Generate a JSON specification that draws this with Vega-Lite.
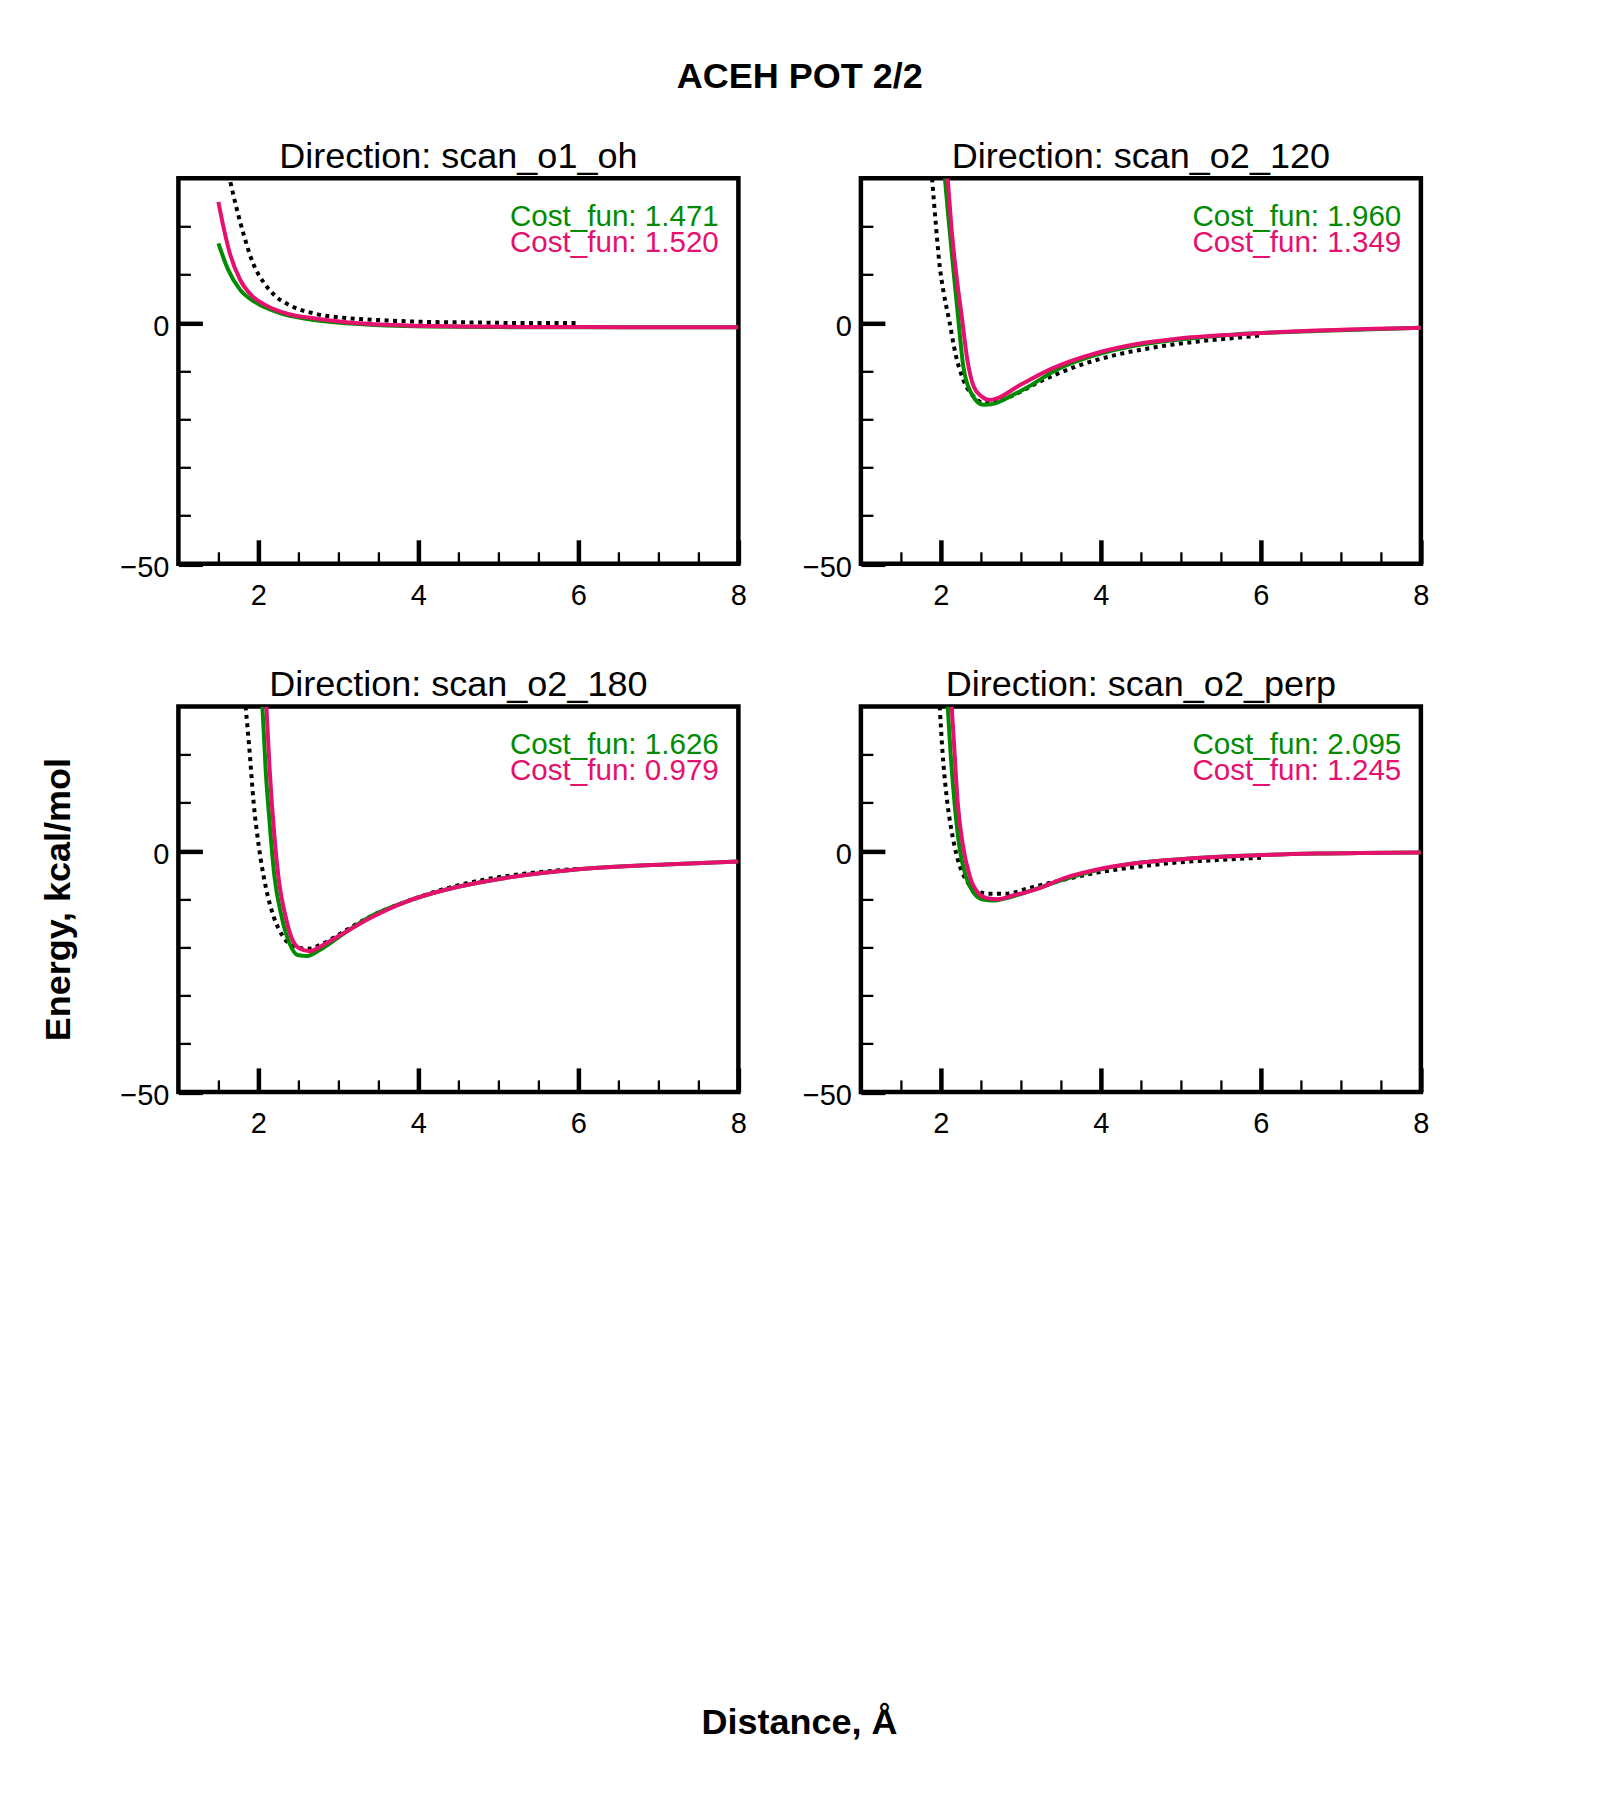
{
  "$schema": "https://vega.github.io/schema/vega-lite/v6.json",
  "background": "white",
  "padding": {"left": 37.4, "top": 58.3, "right": 20, "bottom": 20},
  "title": {"text": "ACEH POT 2/2", "font": "Liberation Sans", "fontSize": 36, "fontWeight": "bold", "color": "black", "anchor": "middle", "offset": 40.4, "dx": 65},
  "config": {
    "view": {"stroke": "black", "strokeWidth": 4.5},
    "axis": {"labelFont": "Liberation Sans", "labelFontSize": 29, "labelColor": "black", "tickColor": "black", "domain": false, "grid": false, "titleFont": "Liberation Sans", "titleColor": "black"},
    "text": {"font": "Liberation Sans"}
  },
  "datasets": {
    "curves": [
      {"panel": "scan_o1_oh", "series": "ref", "x": 1.65, "y": 29.2},
      {"panel": "scan_o1_oh", "series": "ref", "x": 1.72, "y": 24.3},
      {"panel": "scan_o1_oh", "series": "ref", "x": 1.82, "y": 18.1},
      {"panel": "scan_o1_oh", "series": "ref", "x": 1.93, "y": 12.5},
      {"panel": "scan_o1_oh", "series": "ref", "x": 2.07, "y": 8.3},
      {"panel": "scan_o1_oh", "series": "ref", "x": 2.21, "y": 5.6},
      {"panel": "scan_o1_oh", "series": "ref", "x": 2.41, "y": 3.5},
      {"panel": "scan_o1_oh", "series": "ref", "x": 2.71, "y": 1.9},
      {"panel": "scan_o1_oh", "series": "ref", "x": 3.1, "y": 1.0},
      {"panel": "scan_o1_oh", "series": "ref", "x": 3.6, "y": 0.5},
      {"panel": "scan_o1_oh", "series": "ref", "x": 4.1, "y": 0.2},
      {"panel": "scan_o1_oh", "series": "ref", "x": 4.6, "y": 0.1},
      {"panel": "scan_o1_oh", "series": "ref", "x": 5.0, "y": 0.0},
      {"panel": "scan_o1_oh", "series": "ref", "x": 5.5, "y": -0.05},
      {"panel": "scan_o1_oh", "series": "ref", "x": 6.0, "y": -0.05},
      {"panel": "scan_o1_oh", "series": "fit1", "x": 1.5, "y": 16.5},
      {"panel": "scan_o1_oh", "series": "fit1", "x": 1.62, "y": 11.1},
      {"panel": "scan_o1_oh", "series": "fit1", "x": 1.77, "y": 6.9},
      {"panel": "scan_o1_oh", "series": "fit1", "x": 1.97, "y": 4.2},
      {"panel": "scan_o1_oh", "series": "fit1", "x": 2.26, "y": 2.1},
      {"panel": "scan_o1_oh", "series": "fit1", "x": 2.61, "y": 0.8},
      {"panel": "scan_o1_oh", "series": "fit1", "x": 3.1, "y": -0.1},
      {"panel": "scan_o1_oh", "series": "fit1", "x": 3.6, "y": -0.55},
      {"panel": "scan_o1_oh", "series": "fit1", "x": 4.1, "y": -0.76},
      {"panel": "scan_o1_oh", "series": "fit1", "x": 5.0, "y": -0.88},
      {"panel": "scan_o1_oh", "series": "fit1", "x": 6.0, "y": -0.92},
      {"panel": "scan_o1_oh", "series": "fit1", "x": 7.0, "y": -0.93},
      {"panel": "scan_o1_oh", "series": "fit1", "x": 8.0, "y": -0.93},
      {"panel": "scan_o1_oh", "series": "fit2", "x": 1.5, "y": 25.1},
      {"panel": "scan_o1_oh", "series": "fit2", "x": 1.57, "y": 19.4},
      {"panel": "scan_o1_oh", "series": "fit2", "x": 1.64, "y": 14.6},
      {"panel": "scan_o1_oh", "series": "fit2", "x": 1.77, "y": 9.0},
      {"panel": "scan_o1_oh", "series": "fit2", "x": 1.92, "y": 5.6},
      {"panel": "scan_o1_oh", "series": "fit2", "x": 2.11, "y": 3.5},
      {"panel": "scan_o1_oh", "series": "fit2", "x": 2.36, "y": 1.9},
      {"panel": "scan_o1_oh", "series": "fit2", "x": 2.71, "y": 0.9},
      {"panel": "scan_o1_oh", "series": "fit2", "x": 3.1, "y": 0.14},
      {"panel": "scan_o1_oh", "series": "fit2", "x": 3.6, "y": -0.4},
      {"panel": "scan_o1_oh", "series": "fit2", "x": 4.1, "y": -0.65},
      {"panel": "scan_o1_oh", "series": "fit2", "x": 4.6, "y": -0.76},
      {"panel": "scan_o1_oh", "series": "fit2", "x": 5.5, "y": -0.85},
      {"panel": "scan_o1_oh", "series": "fit2", "x": 6.5, "y": -0.9},
      {"panel": "scan_o1_oh", "series": "fit2", "x": 8.0, "y": -0.92},

      {"panel": "scan_o2_120", "series": "ref", "x": 1.89, "y": 30},
      {"panel": "scan_o2_120", "series": "ref", "x": 1.935, "y": 20.8},
      {"panel": "scan_o2_120", "series": "ref", "x": 1.985, "y": 11.8},
      {"panel": "scan_o2_120", "series": "ref", "x": 2.035, "y": 6.25},
      {"panel": "scan_o2_120", "series": "ref", "x": 2.11, "y": 0},
      {"panel": "scan_o2_120", "series": "ref", "x": 2.18, "y": -6.25},
      {"panel": "scan_o2_120", "series": "ref", "x": 2.28, "y": -11.8},
      {"panel": "scan_o2_120", "series": "ref", "x": 2.41, "y": -15.3},
      {"panel": "scan_o2_120", "series": "ref", "x": 2.56, "y": -16.7},
      {"panel": "scan_o2_120", "series": "ref", "x": 2.71, "y": -16.3},
      {"panel": "scan_o2_120", "series": "ref", "x": 2.96, "y": -14.6},
      {"panel": "scan_o2_120", "series": "ref", "x": 3.2, "y": -12.5},
      {"panel": "scan_o2_120", "series": "ref", "x": 3.7, "y": -9.0},
      {"panel": "scan_o2_120", "series": "ref", "x": 4.2, "y": -6.6},
      {"panel": "scan_o2_120", "series": "ref", "x": 4.7, "y": -5.0},
      {"panel": "scan_o2_120", "series": "ref", "x": 5.19, "y": -3.9},
      {"panel": "scan_o2_120", "series": "ref", "x": 5.69, "y": -3.1},
      {"panel": "scan_o2_120", "series": "ref", "x": 6.0, "y": -2.6},
      {"panel": "scan_o2_120", "series": "fit1", "x": 2.05, "y": 30},
      {"panel": "scan_o2_120", "series": "fit1", "x": 2.1, "y": 20.8},
      {"panel": "scan_o2_120", "series": "fit1", "x": 2.16, "y": 10.4},
      {"panel": "scan_o2_120", "series": "fit1", "x": 2.21, "y": 2.1},
      {"panel": "scan_o2_120", "series": "fit1", "x": 2.28, "y": -9.0},
      {"panel": "scan_o2_120", "series": "fit1", "x": 2.38, "y": -14.6},
      {"panel": "scan_o2_120", "series": "fit1", "x": 2.53, "y": -17.0},
      {"panel": "scan_o2_120", "series": "fit1", "x": 2.68, "y": -16.7},
      {"panel": "scan_o2_120", "series": "fit1", "x": 2.86, "y": -15.3},
      {"panel": "scan_o2_120", "series": "fit1", "x": 3.1, "y": -13.2},
      {"panel": "scan_o2_120", "series": "fit1", "x": 3.45, "y": -9.7},
      {"panel": "scan_o2_120", "series": "fit1", "x": 3.95, "y": -6.6},
      {"panel": "scan_o2_120", "series": "fit1", "x": 4.45, "y": -4.65},
      {"panel": "scan_o2_120", "series": "fit1", "x": 4.95, "y": -3.5},
      {"panel": "scan_o2_120", "series": "fit1", "x": 5.69, "y": -2.4},
      {"panel": "scan_o2_120", "series": "fit1", "x": 6.69, "y": -1.7},
      {"panel": "scan_o2_120", "series": "fit1", "x": 8.0, "y": -1.0},
      {"panel": "scan_o2_120", "series": "fit2", "x": 2.085, "y": 30},
      {"panel": "scan_o2_120", "series": "fit2", "x": 2.13, "y": 20.1},
      {"panel": "scan_o2_120", "series": "fit2", "x": 2.19, "y": 10.4},
      {"panel": "scan_o2_120", "series": "fit2", "x": 2.26, "y": 1.4},
      {"panel": "scan_o2_120", "series": "fit2", "x": 2.33, "y": -7.6},
      {"panel": "scan_o2_120", "series": "fit2", "x": 2.41, "y": -13.2},
      {"panel": "scan_o2_120", "series": "fit2", "x": 2.51, "y": -15.3},
      {"panel": "scan_o2_120", "series": "fit2", "x": 2.61, "y": -16.0},
      {"panel": "scan_o2_120", "series": "fit2", "x": 2.71, "y": -15.6},
      {"panel": "scan_o2_120", "series": "fit2", "x": 2.96, "y": -13.2},
      {"panel": "scan_o2_120", "series": "fit2", "x": 3.4, "y": -9.4},
      {"panel": "scan_o2_120", "series": "fit2", "x": 3.95, "y": -6.25},
      {"panel": "scan_o2_120", "series": "fit2", "x": 4.45, "y": -4.4},
      {"panel": "scan_o2_120", "series": "fit2", "x": 4.95, "y": -3.3},
      {"panel": "scan_o2_120", "series": "fit2", "x": 5.69, "y": -2.4},
      {"panel": "scan_o2_120", "series": "fit2", "x": 6.69, "y": -1.6},
      {"panel": "scan_o2_120", "series": "fit2", "x": 8.0, "y": -1.0},

      {"panel": "scan_o2_180", "series": "ref", "x": 1.84, "y": 30},
      {"panel": "scan_o2_180", "series": "ref", "x": 1.89, "y": 20.6},
      {"panel": "scan_o2_180", "series": "ref", "x": 1.94, "y": 10.1},
      {"panel": "scan_o2_180", "series": "ref", "x": 2.005, "y": 1.0},
      {"panel": "scan_o2_180", "series": "ref", "x": 2.09, "y": -7.3},
      {"panel": "scan_o2_180", "series": "ref", "x": 2.19, "y": -13.6},
      {"panel": "scan_o2_180", "series": "ref", "x": 2.31, "y": -17.8},
      {"panel": "scan_o2_180", "series": "ref", "x": 2.46, "y": -19.9},
      {"panel": "scan_o2_180", "series": "ref", "x": 2.61, "y": -20.3},
      {"panel": "scan_o2_180", "series": "ref", "x": 2.81, "y": -19.2},
      {"panel": "scan_o2_180", "series": "ref", "x": 3.1, "y": -16.4},
      {"panel": "scan_o2_180", "series": "ref", "x": 3.4, "y": -13.6},
      {"panel": "scan_o2_180", "series": "ref", "x": 3.8, "y": -10.8},
      {"panel": "scan_o2_180", "series": "ref", "x": 4.3, "y": -8.0},
      {"panel": "scan_o2_180", "series": "ref", "x": 4.84, "y": -5.9},
      {"panel": "scan_o2_180", "series": "ref", "x": 5.34, "y": -4.7},
      {"panel": "scan_o2_180", "series": "ref", "x": 6.0, "y": -3.7},
      {"panel": "scan_o2_180", "series": "fit1", "x": 2.05, "y": 30},
      {"panel": "scan_o2_180", "series": "fit1", "x": 2.09, "y": 17.1},
      {"panel": "scan_o2_180", "series": "fit1", "x": 2.14, "y": 5.9},
      {"panel": "scan_o2_180", "series": "fit1", "x": 2.2, "y": -5.2},
      {"panel": "scan_o2_180", "series": "fit1", "x": 2.29, "y": -13.6},
      {"panel": "scan_o2_180", "series": "fit1", "x": 2.39, "y": -19.2},
      {"panel": "scan_o2_180", "series": "fit1", "x": 2.49, "y": -21.6},
      {"panel": "scan_o2_180", "series": "fit1", "x": 2.61, "y": -21.8},
      {"panel": "scan_o2_180", "series": "fit1", "x": 2.76, "y": -20.6},
      {"panel": "scan_o2_180", "series": "fit1", "x": 3.01, "y": -17.8},
      {"panel": "scan_o2_180", "series": "fit1", "x": 3.4, "y": -13.6},
      {"panel": "scan_o2_180", "series": "fit1", "x": 3.85, "y": -10.5},
      {"panel": "scan_o2_180", "series": "fit1", "x": 4.35, "y": -8.0},
      {"panel": "scan_o2_180", "series": "fit1", "x": 5.09, "y": -5.6},
      {"panel": "scan_o2_180", "series": "fit1", "x": 6.0, "y": -3.8},
      {"panel": "scan_o2_180", "series": "fit1", "x": 7.08, "y": -2.8},
      {"panel": "scan_o2_180", "series": "fit1", "x": 8.0, "y": -2.2},
      {"panel": "scan_o2_180", "series": "fit2", "x": 2.1, "y": 30},
      {"panel": "scan_o2_180", "series": "fit2", "x": 2.14, "y": 17.1},
      {"panel": "scan_o2_180", "series": "fit2", "x": 2.2, "y": 3.1},
      {"panel": "scan_o2_180", "series": "fit2", "x": 2.26, "y": -6.6},
      {"panel": "scan_o2_180", "series": "fit2", "x": 2.34, "y": -13.6},
      {"panel": "scan_o2_180", "series": "fit2", "x": 2.41, "y": -17.8},
      {"panel": "scan_o2_180", "series": "fit2", "x": 2.51, "y": -20.2},
      {"panel": "scan_o2_180", "series": "fit2", "x": 2.64, "y": -20.8},
      {"panel": "scan_o2_180", "series": "fit2", "x": 2.81, "y": -19.5},
      {"panel": "scan_o2_180", "series": "fit2", "x": 3.1, "y": -16.7},
      {"panel": "scan_o2_180", "series": "fit2", "x": 3.4, "y": -13.9},
      {"panel": "scan_o2_180", "series": "fit2", "x": 3.85, "y": -10.5},
      {"panel": "scan_o2_180", "series": "fit2", "x": 4.35, "y": -8.0},
      {"panel": "scan_o2_180", "series": "fit2", "x": 5.09, "y": -5.6},
      {"panel": "scan_o2_180", "series": "fit2", "x": 6.0, "y": -3.8},
      {"panel": "scan_o2_180", "series": "fit2", "x": 7.08, "y": -2.8},
      {"panel": "scan_o2_180", "series": "fit2", "x": 8.0, "y": -2.2},

      {"panel": "scan_o2_perp", "series": "ref", "x": 1.985, "y": 30},
      {"panel": "scan_o2_perp", "series": "ref", "x": 2.02, "y": 20.6},
      {"panel": "scan_o2_perp", "series": "ref", "x": 2.07, "y": 11.5},
      {"panel": "scan_o2_perp", "series": "ref", "x": 2.13, "y": 4.5},
      {"panel": "scan_o2_perp", "series": "ref", "x": 2.21, "y": -1.7},
      {"panel": "scan_o2_perp", "series": "ref", "x": 2.31, "y": -5.9},
      {"panel": "scan_o2_perp", "series": "ref", "x": 2.43, "y": -8.0},
      {"panel": "scan_o2_perp", "series": "ref", "x": 2.6, "y": -8.9},
      {"panel": "scan_o2_perp", "series": "ref", "x": 2.81, "y": -8.9},
      {"panel": "scan_o2_perp", "series": "ref", "x": 3.1, "y": -7.7},
      {"panel": "scan_o2_perp", "series": "ref", "x": 3.5, "y": -6.1},
      {"panel": "scan_o2_perp", "series": "ref", "x": 3.95, "y": -4.5},
      {"panel": "scan_o2_perp", "series": "ref", "x": 4.45, "y": -3.3},
      {"panel": "scan_o2_perp", "series": "ref", "x": 4.95, "y": -2.4},
      {"panel": "scan_o2_perp", "series": "ref", "x": 5.44, "y": -1.9},
      {"panel": "scan_o2_perp", "series": "ref", "x": 6.0, "y": -1.4},
      {"panel": "scan_o2_perp", "series": "fit1", "x": 2.085, "y": 30},
      {"panel": "scan_o2_perp", "series": "fit1", "x": 2.12, "y": 20.6},
      {"panel": "scan_o2_perp", "series": "fit1", "x": 2.17, "y": 10.1},
      {"panel": "scan_o2_perp", "series": "fit1", "x": 2.23, "y": 1.0},
      {"panel": "scan_o2_perp", "series": "fit1", "x": 2.31, "y": -5.2},
      {"panel": "scan_o2_perp", "series": "fit1", "x": 2.41, "y": -8.7},
      {"panel": "scan_o2_perp", "series": "fit1", "x": 2.53, "y": -10.1},
      {"panel": "scan_o2_perp", "series": "fit1", "x": 2.66, "y": -10.3},
      {"panel": "scan_o2_perp", "series": "fit1", "x": 2.81, "y": -9.8},
      {"panel": "scan_o2_perp", "series": "fit1", "x": 3.1, "y": -8.4},
      {"panel": "scan_o2_perp", "series": "fit1", "x": 3.5, "y": -6.1},
      {"panel": "scan_o2_perp", "series": "fit1", "x": 4.0, "y": -3.8},
      {"panel": "scan_o2_perp", "series": "fit1", "x": 4.5, "y": -2.4},
      {"panel": "scan_o2_perp", "series": "fit1", "x": 5.0, "y": -1.7},
      {"panel": "scan_o2_perp", "series": "fit1", "x": 5.69, "y": -1.05},
      {"panel": "scan_o2_perp", "series": "fit1", "x": 6.69, "y": -0.55},
      {"panel": "scan_o2_perp", "series": "fit1", "x": 8.0, "y": -0.3},
      {"panel": "scan_o2_perp", "series": "fit2", "x": 2.135, "y": 30},
      {"panel": "scan_o2_perp", "series": "fit2", "x": 2.17, "y": 20.6},
      {"panel": "scan_o2_perp", "series": "fit2", "x": 2.21, "y": 10.1},
      {"panel": "scan_o2_perp", "series": "fit2", "x": 2.27, "y": 1.7},
      {"panel": "scan_o2_perp", "series": "fit2", "x": 2.36, "y": -5.2},
      {"panel": "scan_o2_perp", "series": "fit2", "x": 2.46, "y": -8.6},
      {"panel": "scan_o2_perp", "series": "fit2", "x": 2.58, "y": -9.8},
      {"panel": "scan_o2_perp", "series": "fit2", "x": 2.71, "y": -10.0},
      {"panel": "scan_o2_perp", "series": "fit2", "x": 2.91, "y": -9.2},
      {"panel": "scan_o2_perp", "series": "fit2", "x": 3.2, "y": -7.9},
      {"panel": "scan_o2_perp", "series": "fit2", "x": 3.55, "y": -5.6},
      {"panel": "scan_o2_perp", "series": "fit2", "x": 4.0, "y": -3.7},
      {"panel": "scan_o2_perp", "series": "fit2", "x": 4.5, "y": -2.4},
      {"panel": "scan_o2_perp", "series": "fit2", "x": 5.0, "y": -1.7},
      {"panel": "scan_o2_perp", "series": "fit2", "x": 5.69, "y": -1.05},
      {"panel": "scan_o2_perp", "series": "fit2", "x": 6.69, "y": -0.55},
      {"panel": "scan_o2_perp", "series": "fit2", "x": 8.0, "y": -0.3}
    ],
    "costs": [
      {"panel": "scan_o1_oh", "series": "fit1", "label": "Cost_fun: 1.471"},
      {"panel": "scan_o1_oh", "series": "fit2", "label": "Cost_fun: 1.520"},
      {"panel": "scan_o2_120", "series": "fit1", "label": "Cost_fun: 1.960"},
      {"panel": "scan_o2_120", "series": "fit2", "label": "Cost_fun: 1.349"},
      {"panel": "scan_o2_180", "series": "fit1", "label": "Cost_fun: 1.626"},
      {"panel": "scan_o2_180", "series": "fit2", "label": "Cost_fun: 0.979"},
      {"panel": "scan_o2_perp", "series": "fit1", "label": "Cost_fun: 2.095"},
      {"panel": "scan_o2_perp", "series": "fit2", "label": "Cost_fun: 1.245"}
    ]
  },
  "concat": [
    {
      "width": 560, "height": 385.5,
      "title": {"text": "Direction: scan_o1_oh", "frame": "group", "anchor": "middle", "font": "Liberation Sans", "fontSize": 36, "fontWeight": "normal", "color": "black", "offset": 2.45},
      "resolve": {"axis": {"x": "independent", "y": "independent"}},
      "layer": [
        {"data": {"name": "curves"}, "transform": [{"filter": "datum.panel === 'scan_o1_oh' && datum.series === 'ref'"}], "mark": {"type": "line", "clip": true, "color": "black", "strokeWidth": 4, "strokeDash": [4, 4.5], "interpolate": "monotone"},
          "encoding": {
            "x": {"field": "x", "type": "quantitative", "scale": {"domain": [1, 8], "nice": false, "zero": false}, "axis": {"orient": "bottom", "title": null, "values": [1.5, 2.5, 3, 3.5, 4.5, 5, 5.5, 6.5, 7, 7.5], "tickSize": -12, "tickWidth": 2.3, "labels": false}},
            "y": {"field": "y", "type": "quantitative", "scale": {"domain": [-50, 30], "nice": false, "zero": false}, "axis": {"orient": "left", "title": null, "values": [-40, -30, -20, -10, 10, 20], "tickSize": -12, "tickWidth": 2.3, "labels": false}}
          }},
        {"data": {"name": "curves"}, "transform": [{"filter": "datum.panel === 'scan_o1_oh' && datum.series === 'fit1'"}], "mark": {"type": "line", "clip": true, "color": "#008C00", "strokeWidth": 4, "interpolate": "monotone"},
          "encoding": {
            "x": {"field": "x", "type": "quantitative", "scale": {"domain": [1, 8], "nice": false, "zero": false}, "axis": {"orient": "bottom", "title": null, "values": [2, 4, 6, 8], "tickSize": -24, "tickWidth": 4.5, "labelPadding": 42, "labelFlush": false, "labelOverlap": false}},
            "y": {"field": "y", "type": "quantitative", "scale": {"domain": [-50, 30], "nice": false, "zero": false}, "axis": {"orient": "left", "title": null, "values": [-50, 0], "tickSize": -24, "tickWidth": 4.5, "labelPadding": 33.5, "labelOffset": 3.5, "labelOverlap": false}}
          }},
        {"data": {"name": "curves"}, "transform": [{"filter": "datum.panel === 'scan_o1_oh' && datum.series === 'fit2'"}], "mark": {"type": "line", "clip": true, "color": "#E6106E", "strokeWidth": 4, "interpolate": "monotone"},
          "encoding": {"x": {"field": "x", "type": "quantitative", "axis": null}, "y": {"field": "y", "type": "quantitative", "axis": null}}},
        {"data": {"name": "costs"}, "transform": [{"filter": "datum.panel === 'scan_o1_oh' && datum.series === 'fit1'"}], "mark": {"type": "text", "align": "right", "baseline": "alphabetic", "fontSize": 29.6, "color": "#008C00"},
          "encoding": {"x": {"datum": 7.755, "type": "quantitative", "axis": null}, "y": {"datum": 20.06, "type": "quantitative", "axis": null}, "text": {"field": "label", "type": "nominal"}}},
        {"data": {"name": "costs"}, "transform": [{"filter": "datum.panel === 'scan_o1_oh' && datum.series === 'fit2'"}], "mark": {"type": "text", "align": "right", "baseline": "alphabetic", "fontSize": 29.6, "color": "#E6106E"},
          "encoding": {"x": {"datum": 7.755, "type": "quantitative", "axis": null}, "y": {"datum": 14.66, "type": "quantitative", "axis": null}, "text": {"field": "label", "type": "nominal"}}}
      ]
    },
    {
      "width": 560, "height": 385.5,
      "title": {"text": "Direction: scan_o2_120", "frame": "group", "anchor": "middle", "font": "Liberation Sans", "fontSize": 36, "fontWeight": "normal", "color": "black", "offset": 2.45},
      "resolve": {"axis": {"x": "independent", "y": "independent"}},
      "layer": [
        {"data": {"name": "curves"}, "transform": [{"filter": "datum.panel === 'scan_o2_120' && datum.series === 'ref'"}], "mark": {"type": "line", "clip": true, "color": "black", "strokeWidth": 4, "strokeDash": [4, 4.5], "interpolate": "monotone"},
          "encoding": {
            "x": {"field": "x", "type": "quantitative", "scale": {"domain": [1, 8], "nice": false, "zero": false}, "axis": {"orient": "bottom", "title": null, "values": [1.5, 2.5, 3, 3.5, 4.5, 5, 5.5, 6.5, 7, 7.5], "tickSize": -12, "tickWidth": 2.3, "labels": false}},
            "y": {"field": "y", "type": "quantitative", "scale": {"domain": [-50, 30], "nice": false, "zero": false}, "axis": {"orient": "left", "title": null, "values": [-40, -30, -20, -10, 10, 20], "tickSize": -12, "tickWidth": 2.3, "labels": false}}
          }},
        {"data": {"name": "curves"}, "transform": [{"filter": "datum.panel === 'scan_o2_120' && datum.series === 'fit1'"}], "mark": {"type": "line", "clip": true, "color": "#008C00", "strokeWidth": 4, "interpolate": "monotone"},
          "encoding": {
            "x": {"field": "x", "type": "quantitative", "scale": {"domain": [1, 8], "nice": false, "zero": false}, "axis": {"orient": "bottom", "title": null, "values": [2, 4, 6, 8], "tickSize": -24, "tickWidth": 4.5, "labelPadding": 42, "labelFlush": false, "labelOverlap": false}},
            "y": {"field": "y", "type": "quantitative", "scale": {"domain": [-50, 30], "nice": false, "zero": false}, "axis": {"orient": "left", "title": null, "values": [-50, 0], "tickSize": -24, "tickWidth": 4.5, "labelPadding": 33.5, "labelOffset": 3.5, "labelOverlap": false}}
          }},
        {"data": {"name": "curves"}, "transform": [{"filter": "datum.panel === 'scan_o2_120' && datum.series === 'fit2'"}], "mark": {"type": "line", "clip": true, "color": "#E6106E", "strokeWidth": 4, "interpolate": "monotone"},
          "encoding": {"x": {"field": "x", "type": "quantitative", "axis": null}, "y": {"field": "y", "type": "quantitative", "axis": null}}},
        {"data": {"name": "costs"}, "transform": [{"filter": "datum.panel === 'scan_o2_120' && datum.series === 'fit1'"}], "mark": {"type": "text", "align": "right", "baseline": "alphabetic", "fontSize": 29.6, "color": "#008C00"},
          "encoding": {"x": {"datum": 7.755, "type": "quantitative", "axis": null}, "y": {"datum": 20.06, "type": "quantitative", "axis": null}, "text": {"field": "label", "type": "nominal"}}},
        {"data": {"name": "costs"}, "transform": [{"filter": "datum.panel === 'scan_o2_120' && datum.series === 'fit2'"}], "mark": {"type": "text", "align": "right", "baseline": "alphabetic", "fontSize": 29.6, "color": "#E6106E"},
          "encoding": {"x": {"datum": 7.755, "type": "quantitative", "axis": null}, "y": {"datum": 14.66, "type": "quantitative", "axis": null}, "text": {"field": "label", "type": "nominal"}}}
      ]
    },
    {
      "width": 560, "height": 385.5,
      "title": {"text": "Direction: scan_o2_180", "frame": "group", "anchor": "middle", "font": "Liberation Sans", "fontSize": 36, "fontWeight": "normal", "color": "black", "offset": 2.45},
      "resolve": {"axis": {"x": "independent", "y": "independent"}},
      "layer": [
        {"data": {"name": "curves"}, "transform": [{"filter": "datum.panel === 'scan_o2_180' && datum.series === 'ref'"}], "mark": {"type": "line", "clip": true, "color": "black", "strokeWidth": 4, "strokeDash": [4, 4.5], "interpolate": "monotone"},
          "encoding": {
            "x": {"field": "x", "type": "quantitative", "scale": {"domain": [1, 8], "nice": false, "zero": false}, "axis": {"orient": "bottom", "title": null, "values": [1.5, 2.5, 3, 3.5, 4.5, 5, 5.5, 6.5, 7, 7.5], "tickSize": -12, "tickWidth": 2.3, "labels": false}},
            "y": {"field": "y", "type": "quantitative", "scale": {"domain": [-50, 30], "nice": false, "zero": false}, "axis": {"orient": "left", "title": null, "values": [-40, -30, -20, -10, 10, 20], "tickSize": -12, "tickWidth": 2.3, "labels": false}}
          }},
        {"data": {"name": "curves"}, "transform": [{"filter": "datum.panel === 'scan_o2_180' && datum.series === 'fit1'"}], "mark": {"type": "line", "clip": true, "color": "#008C00", "strokeWidth": 4, "interpolate": "monotone"},
          "encoding": {
            "x": {"field": "x", "type": "quantitative", "scale": {"domain": [1, 8], "nice": false, "zero": false}, "axis": {"orient": "bottom", "title": "Distance, Å", "titleFontSize": 36, "titleFontWeight": "bold", "titleX": 620.7, "titleY": 641.6, "titleAlign": "center", "titleBaseline": "alphabetic", "titleAngle": 0, "values": [2, 4, 6, 8], "tickSize": -24, "tickWidth": 4.5, "labelPadding": 42, "labelFlush": false, "labelOverlap": false}},
            "y": {"field": "y", "type": "quantitative", "scale": {"domain": [-50, 30], "nice": false, "zero": false}, "axis": {"orient": "left", "title": "Energy, kcal/mol", "titleFontSize": 36, "titleFontWeight": "bold", "titleX": -109, "titleY": 192.75, "titleAlign": "center", "titleBaseline": "alphabetic", "titleAngle": 270, "values": [-50, 0], "tickSize": -24, "tickWidth": 4.5, "labelPadding": 33.5, "labelOffset": 3.5, "labelOverlap": false}}
          }},
        {"data": {"name": "curves"}, "transform": [{"filter": "datum.panel === 'scan_o2_180' && datum.series === 'fit2'"}], "mark": {"type": "line", "clip": true, "color": "#E6106E", "strokeWidth": 4, "interpolate": "monotone"},
          "encoding": {"x": {"field": "x", "type": "quantitative", "axis": null}, "y": {"field": "y", "type": "quantitative", "axis": null}}},
        {"data": {"name": "costs"}, "transform": [{"filter": "datum.panel === 'scan_o2_180' && datum.series === 'fit1'"}], "mark": {"type": "text", "align": "right", "baseline": "alphabetic", "fontSize": 29.6, "color": "#008C00"},
          "encoding": {"x": {"datum": 7.755, "type": "quantitative", "axis": null}, "y": {"datum": 20.06, "type": "quantitative", "axis": null}, "text": {"field": "label", "type": "nominal"}}},
        {"data": {"name": "costs"}, "transform": [{"filter": "datum.panel === 'scan_o2_180' && datum.series === 'fit2'"}], "mark": {"type": "text", "align": "right", "baseline": "alphabetic", "fontSize": 29.6, "color": "#E6106E"},
          "encoding": {"x": {"datum": 7.755, "type": "quantitative", "axis": null}, "y": {"datum": 14.66, "type": "quantitative", "axis": null}, "text": {"field": "label", "type": "nominal"}}}
      ]
    },
    {
      "width": 560, "height": 385.5,
      "title": {"text": "Direction: scan_o2_perp", "frame": "group", "anchor": "middle", "font": "Liberation Sans", "fontSize": 36, "fontWeight": "normal", "color": "black", "offset": 2.45},
      "resolve": {"axis": {"x": "independent", "y": "independent"}},
      "layer": [
        {"data": {"name": "curves"}, "transform": [{"filter": "datum.panel === 'scan_o2_perp' && datum.series === 'ref'"}], "mark": {"type": "line", "clip": true, "color": "black", "strokeWidth": 4, "strokeDash": [4, 4.5], "interpolate": "monotone"},
          "encoding": {
            "x": {"field": "x", "type": "quantitative", "scale": {"domain": [1, 8], "nice": false, "zero": false}, "axis": {"orient": "bottom", "title": null, "values": [1.5, 2.5, 3, 3.5, 4.5, 5, 5.5, 6.5, 7, 7.5], "tickSize": -12, "tickWidth": 2.3, "labels": false}},
            "y": {"field": "y", "type": "quantitative", "scale": {"domain": [-50, 30], "nice": false, "zero": false}, "axis": {"orient": "left", "title": null, "values": [-40, -30, -20, -10, 10, 20], "tickSize": -12, "tickWidth": 2.3, "labels": false}}
          }},
        {"data": {"name": "curves"}, "transform": [{"filter": "datum.panel === 'scan_o2_perp' && datum.series === 'fit1'"}], "mark": {"type": "line", "clip": true, "color": "#008C00", "strokeWidth": 4, "interpolate": "monotone"},
          "encoding": {
            "x": {"field": "x", "type": "quantitative", "scale": {"domain": [1, 8], "nice": false, "zero": false}, "axis": {"orient": "bottom", "title": null, "values": [2, 4, 6, 8], "tickSize": -24, "tickWidth": 4.5, "labelPadding": 42, "labelFlush": false, "labelOverlap": false}},
            "y": {"field": "y", "type": "quantitative", "scale": {"domain": [-50, 30], "nice": false, "zero": false}, "axis": {"orient": "left", "title": null, "values": [-50, 0], "tickSize": -24, "tickWidth": 4.5, "labelPadding": 33.5, "labelOffset": 3.5, "labelOverlap": false}}
          }},
        {"data": {"name": "curves"}, "transform": [{"filter": "datum.panel === 'scan_o2_perp' && datum.series === 'fit2'"}], "mark": {"type": "line", "clip": true, "color": "#E6106E", "strokeWidth": 4, "interpolate": "monotone"},
          "encoding": {"x": {"field": "x", "type": "quantitative", "axis": null}, "y": {"field": "y", "type": "quantitative", "axis": null}}},
        {"data": {"name": "costs"}, "transform": [{"filter": "datum.panel === 'scan_o2_perp' && datum.series === 'fit1'"}], "mark": {"type": "text", "align": "right", "baseline": "alphabetic", "fontSize": 29.6, "color": "#008C00"},
          "encoding": {"x": {"datum": 7.755, "type": "quantitative", "axis": null}, "y": {"datum": 20.06, "type": "quantitative", "axis": null}, "text": {"field": "label", "type": "nominal"}}},
        {"data": {"name": "costs"}, "transform": [{"filter": "datum.panel === 'scan_o2_perp' && datum.series === 'fit2'"}], "mark": {"type": "text", "align": "right", "baseline": "alphabetic", "fontSize": 29.6, "color": "#E6106E"},
          "encoding": {"x": {"datum": 7.755, "type": "quantitative", "axis": null}, "y": {"datum": 14.66, "type": "quantitative", "axis": null}, "text": {"field": "label", "type": "nominal"}}}
      ]
    }
  ],
  "columns": 2,
  "spacing": {"row": 142.1, "column": 122.5},
  "bounds": "flush"
}
